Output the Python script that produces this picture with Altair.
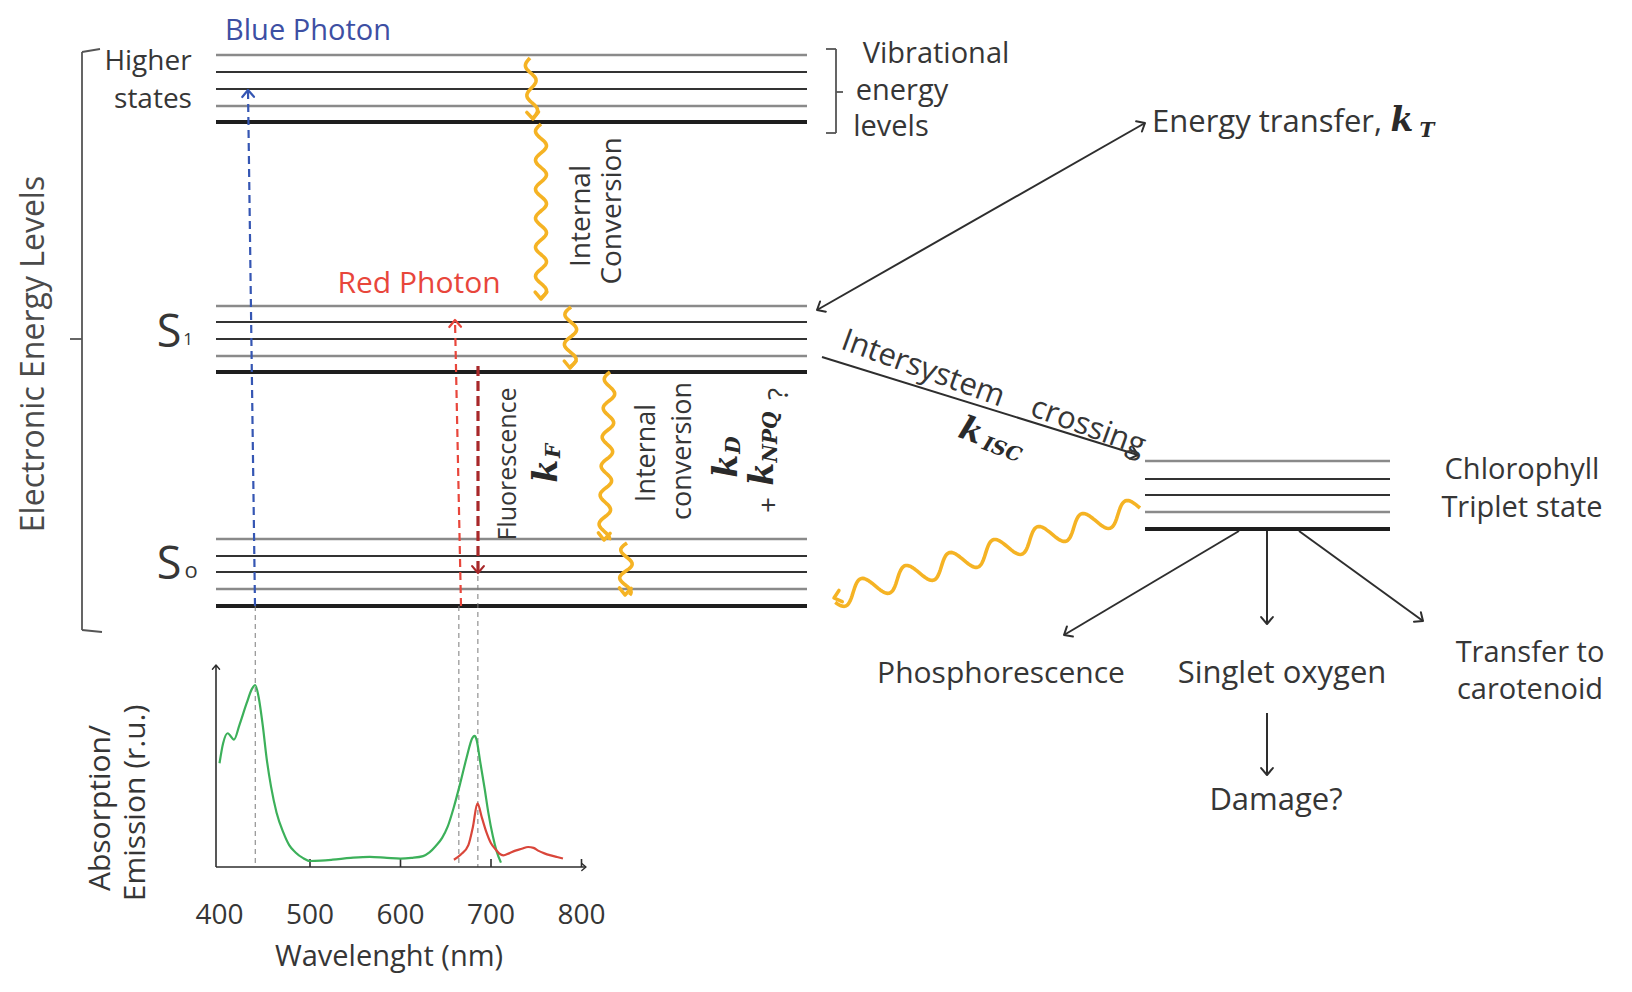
import math
import numpy as np
import pandas as pd
import altair as alt

# ---------------- canvas (diagram units = reference pixels) ----------------
X0, X1 = 8, 1620
Y0, Y1 = 8, 978
W, H = X1 - X0, Y1 - Y0

FONT = "Open Sans"
KFONT = "DejaVu Serif"
INK = "#363636"
GRAY = "#8a8a8a"
ORANGE = "#F5B324"
BLUE_TXT = "#3d4fa3"
BLUE = "#3556b3"
RED = "#e8463b"
DARKRED = "#a8282a"
GREEN = "#3cb05a"
EMRED = "#d9463a"

# ---------------- energy levels ----------------
LEVEL_X = (216, 807)
HIGHER_Y = [55, 72, 89, 106, 122]
S1_Y = [306, 322, 339, 356, 372]
S0_Y = [539, 556, 572, 589, 606]
TRIPLET_X = (1145, 1390)
TRIPLET_Y = [461, 479, 495, 512, 529]
LEVEL_W = [2.5, 2.2, 2.2, 2.5, 3.8]
LEVEL_C = [GRAY, "#333333", "#333333", GRAY, "#1e1e1e"]

# ---------------- absorption / emission spectra ----------------
ABS_NM = [400, 404, 409, 416, 422, 430, 436, 439.5, 443, 448, 452, 457, 463, 470.5,
          477, 484, 492, 500, 512, 525, 545, 566, 585, 600, 612, 625, 632, 639, 646,
          652, 659, 666, 673, 679.5, 682, 684, 688, 693, 697, 702, 706, 711]
ABS_VAL = [0.57, 0.68, 0.735, 0.70, 0.78, 0.90, 0.98, 1.0, 0.94, 0.77, 0.60, 0.44,
           0.30, 0.19, 0.12, 0.08, 0.05, 0.033, 0.035, 0.04, 0.05, 0.056, 0.05, 0.046,
           0.05, 0.06, 0.08, 0.115, 0.16, 0.22, 0.33, 0.46, 0.60, 0.71, 0.72, 0.70,
           0.58, 0.43, 0.30, 0.17, 0.09, 0.024]
EM_NM = [659, 667, 675, 680, 685, 690, 695, 700, 704.5, 709, 713.6, 720, 727, 734,
         741, 747, 752, 759, 766, 773, 779.5]
EM_VAL = [0.04, 0.07, 0.12, 0.22, 0.35, 0.27, 0.19, 0.13, 0.10, 0.075, 0.064, 0.075,
          0.09, 0.10, 0.11, 0.105, 0.09, 0.075, 0.064, 0.055, 0.047]
WL_TICKS = [400, 500, 600, 700, 800]
WL_MINOR = [500, 600, 700, 800]
MARKED_NM = [439.5, 664.5, 685.5]  # wavelengths linked to the level diagram

# inset placement (diagram units)
INSET_X0, INSET_PX_PER_NM = 219.5, 0.905
INSET_BASE, INSET_H = 867, 182


def nm_x(nm):
    return INSET_X0 + INSET_PX_PER_NM * (nm - 400)


def val_y(v):
    return INSET_BASE - INSET_H * v


# ---------------- helpers ----------------
def X(f="x"):
    return alt.X(f"{f}:Q", scale=alt.Scale(domain=[X0, X1], nice=False, zero=False), axis=None)


def Y(f="y"):
    return alt.Y(f"{f}:Q", scale=alt.Scale(domain=[Y0, Y1], reverse=True, nice=False, zero=False), axis=None)


def head_angle(x0, y0, x1, y1):
    return math.degrees(math.atan2(x1 - x0, -(y1 - y0))) % 360


layers = []

# level lines
rows = []
for ys, (xa, xb) in [(HIGHER_Y, LEVEL_X), (S1_Y, LEVEL_X), (S0_Y, LEVEL_X), (TRIPLET_Y, TRIPLET_X)]:
    for i, yv in enumerate(ys):
        rows.append(dict(x=xa, x2=xb, y=yv, w=LEVEL_W[i], c=LEVEL_C[i]))
levels = pd.DataFrame(rows)
layers.append(alt.Chart(levels).mark_rule().encode(
    x=X(), x2=alt.X2("x2:Q"), y=Y(),
    strokeWidth=alt.StrokeWidth("w:Q", scale=None),
    color=alt.Color("c:N", scale=None)))

# ---------------- straight arrows ----------------
SOLID_ARROWS = [  # x0, y0, x1, y1, head_start, head_end
    (817, 310, 1145, 123, True, True),
    (822, 357, 1138, 455, False, True),
    (1239, 531, 1064, 635, False, True),
    (1267, 531, 1267, 624, False, True),
    (1299, 531, 1423, 621, False, True),
    (1267, 713, 1267, 775, False, True),
]
DASHED_ARROWS = [  # x0, y0, x1, y1, color, width
    (255, 606, 248, 90, BLUE, 2.2),
    (461, 606, 455, 320, RED, 2.2),
    (478, 366, 478, 573, DARKRED, 3.2),
]
GUIDES = [(nm_x(MARKED_NM[0]), 606), (nm_x(MARKED_NM[1]), 606), (nm_x(MARKED_NM[2]), 576)]

heads = []
solid = pd.DataFrame([dict(x=a[0], y=a[1], x2=a[2], y2=a[3]) for a in SOLID_ARROWS])
layers.append(alt.Chart(solid).mark_rule(color="#2e2e2e", strokeWidth=2).encode(
    x=X(), y=Y(), x2=alt.X2("x2:Q"), y2=alt.Y2("y2:Q")))
for x0, y0, x1, y1, hs, he in SOLID_ARROWS:
    if he:
        heads.append(dict(x=x1, y=y1, a=head_angle(x0, y0, x1, y1), c="#2e2e2e", sw=2))
    if hs:
        heads.append(dict(x=x0, y=y0, a=head_angle(x1, y1, x0, y0), c="#2e2e2e", sw=2))

for x0, y0, x1, y1, col, wd in DASHED_ARROWS:
    d = pd.DataFrame([dict(x=x0, y=y0, x2=x1, y2=y1)])
    layers.append(alt.Chart(d).mark_rule(color=col, strokeWidth=wd,
                                         strokeDash=[8, 5] if wd < 3 else [10, 5]).encode(
        x=X(), y=Y(), x2=alt.X2("x2:Q"), y2=alt.Y2("y2:Q")))
    heads.append(dict(x=x1, y=y1, a=head_angle(x0, y0, x1, y1), c=col, sw=2.2))

guides = pd.DataFrame([dict(x=gx, y=gy, x2=gx, y2=INSET_BASE) for gx, gy in GUIDES])
layers.append(alt.Chart(guides).mark_rule(color="#7a7a7a", strokeWidth=1, strokeDash=[5, 4]).encode(
    x=X(), y=Y(), x2=alt.X2("x2:Q"), y2=alt.Y2("y2:Q")))

# ---------------- brackets ----------------
BRACKET_SEGS = [
    (82, 52, 82, 630), (82, 52, 100, 49), (82, 630, 102, 632), (82, 339, 70, 339),
    (826, 49, 836, 49), (836, 49, 836, 133), (836, 133, 826, 133), (836, 92, 843, 92),
]
br = pd.DataFrame([dict(x=s[0], y=s[1], x2=s[2], y2=s[3]) for s in BRACKET_SEGS])
layers.append(alt.Chart(br).mark_rule(color="#555555", strokeWidth=1.8).encode(
    x=X(), y=Y(), x2=alt.X2("x2:Q"), y2=alt.Y2("y2:Q")))

# ---------------- wavy (non-radiative) arrows ----------------
WAVES = [  # x0, y0, x1, y1, amplitude, wavelength
    (530, 58, 533, 119, 5, 30),
    (541, 124, 541, 299, 5.5, 29),
    (571, 307, 570, 368, 6, 30),
    (610, 372, 604, 540, 5.5, 29),
    (627, 543, 625, 595, 6, 28),
    (1140, 508, 834, 598, 11, 46),
]
wrows = []
for k, (x0, y0, x1, y1, amp, wl) in enumerate(WAVES):
    L = math.hypot(x1 - x0, y1 - y0)
    ux, uy = (x1 - x0) / L, (y1 - y0) / L
    px, py = -uy, ux
    n = int(L / 1.5)
    for i in range(n + 1):
        s = L * i / n
        off = amp * math.sin(2 * math.pi * s / wl)
        wrows.append(dict(id=k, i=i, x=x0 + ux * s + px * off, y=y0 + uy * s + py * off))
    heads.append(dict(x=x1, y=y1, a=head_angle(x0, y0, x1, y1), c=ORANGE, sw=3.5))
waves = pd.DataFrame(wrows)
layers.append(alt.Chart(waves).mark_line(color=ORANGE, strokeWidth=3.6, strokeJoin="round").encode(
    x=X(), y=Y(), detail="id:N", order="i:Q"))

# ---------------- spectrum inset ----------------
axes_segs = pd.DataFrame([
    dict(x=216, y=INSET_BASE, x2=216, y2=665),
    dict(x=216, y=INSET_BASE, x2=586, y2=INSET_BASE),
] + [dict(x=nm_x(t), y=INSET_BASE, x2=nm_x(t), y2=INSET_BASE - 8) for t in WL_MINOR])
layers.append(alt.Chart(axes_segs).mark_rule(color="#2e2e2e", strokeWidth=1.6).encode(
    x=X(), y=Y(), x2=alt.X2("x2:Q"), y2=alt.Y2("y2:Q")))
heads.append(dict(x=216, y=665, a=0, c="#2e2e2e", sw=1.4))
heads.append(dict(x=586, y=INSET_BASE, a=90, c="#2e2e2e", sw=1.4))

absdf = pd.DataFrame({"nm": ABS_NM, "v": ABS_VAL})
absdf["x"] = absdf["nm"].map(nm_x)
absdf["y"] = absdf["v"].map(val_y)
emdf = pd.DataFrame({"nm": EM_NM, "v": EM_VAL})
emdf["x"] = emdf["nm"].map(nm_x)
emdf["y"] = emdf["v"].map(val_y)
layers.append(alt.Chart(absdf).mark_line(color=GREEN, strokeWidth=2.2, interpolate="monotone").encode(
    x=X(), y=Y(), order="nm:Q"))
layers.append(alt.Chart(emdf).mark_line(color=EMRED, strokeWidth=2.2, interpolate="monotone").encode(
    x=X(), y=Y(), order="nm:Q"))

# arrowheads
hd = pd.DataFrame(heads)
for sw, g in hd.groupby("sw"):
    big = sw >= 2
    layers.append(alt.Chart(g).mark_point(
        shape="M -0.85 1 L 0 0 L 0.85 1", filled=False, strokeWidth=float(sw),
        size=190 if big else 70, opacity=1, strokeCap="round", strokeJoin="round").encode(
        x=X(), y=Y(), angle=alt.Angle("a:Q", scale=None), color=alt.Color("c:N", scale=None)))

# ---------------- text ----------------
LABELS = [  # text, x, y, size, angle, color
    ("Blue Photon", 308, 31, 29, 0, BLUE_TXT),
    ("Red Photon", 419, 284, 30, 0, RED),
    ("Higher", 148, 62, 28, 0, INK),
    ("states", 153, 100, 28, 0, INK),
    ("Vibrational", 936, 54, 29, 0, INK),
    ("energy", 902, 91, 29, 0, INK),
    ("levels", 891, 127, 29, 0, INK),
    ("Electronic Energy Levels", 34, 354, 32, 270, "#4a4a4a"),
    ("Internal", 582, 216, 28, 270, INK),
    ("Conversion", 613, 211, 28, 270, INK),
    ("Fluorescence", 508, 464, 25, 270, INK),
    ("Internal", 647, 453, 27, 270, INK),
    ("conversion", 683, 451, 27, 270, INK),
    ("+", 770, 505, 28, 270, INK),
    ("?", 780, 394, 28, 270, INK),
    ("Energy transfer,", 1267, 123, 31, 0, INK),
    ("Intersystem", 923, 369, 31, 20, INK),
    ("crossing", 1088, 427, 31, 20, INK),
    ("Chlorophyll", 1522, 470, 29, 0, INK),
    ("Triplet state", 1522, 508, 29, 0, INK),
    ("Phosphorescence", 1001, 674, 30, 0, INK),
    ("Singlet oxygen", 1282, 674, 31, 0, INK),
    ("Transfer to", 1530, 653, 29, 0, INK),
    ("carotenoid", 1530, 690, 29, 0, INK),
    ("Damage?", 1276, 801, 31, 0, INK),
    ("Absorption/", 101, 808, 30, 270, INK),
    ("Emission (r.u.)", 136, 803, 30, 270, INK),
    ("Wavelenght (nm)", 389, 957, 29, 0, INK),
    ("S", 169, 333, 45, 0, INK),
    ("1", 188, 340, 17, 0, INK),
    ("S", 169, 565, 45, 0, INK),
    ("o", 191, 571, 22, 0, INK),
]
for t in WL_TICKS:
    LABELS.append((str(t), nm_x(t), 916, 28, 0, INK))

K_LABELS = [  # bold-italic rate constants: text, x, y, size, angle
    ("k", 1402, 121, 33, 0),
    ("T", 1427, 131, 20, 0),
    ("k", 971, 431, 33, 20),
    ("ISC", 1002, 450, 20, 20),
    ("k", 547, 471, 33, 270),
    ("F", 554, 451, 20, 270),
    ("k", 727, 466, 33, 270),
    ("D", 734, 445, 20, 270),
    ("k", 763, 474, 33, 270),
    ("NPQ", 771, 437, 20, 270),
]

lab = pd.DataFrame(LABELS, columns=["t", "x", "y", "s", "a", "c"])
layers.append(alt.Chart(lab).mark_text(font=FONT, align="center", baseline="middle").encode(
    x=X(), y=Y(), text="t:N", size=alt.Size("s:Q", scale=None),
    angle=alt.Angle("a:Q", scale=None), color=alt.Color("c:N", scale=None)))

kl = pd.DataFrame(K_LABELS, columns=["t", "x", "y", "s", "a"])
layers.append(alt.Chart(kl).mark_text(font=KFONT, fontWeight="bold", fontStyle="italic",
                                      align="center", baseline="middle", color="#2a2a2a").encode(
    x=X(), y=Y(), text="t:N", size=alt.Size("s:Q", scale=None),
    angle=alt.Angle("a:Q", scale=None)))

chart = alt.layer(*layers).properties(
    width=W, height=H, padding=0,
    autosize=alt.AutoSizeParams(type="fit", contains="padding"),
).configure_view(stroke=None)

chart.save("out.html", embed_options={"renderer": "svg", "actions": False})
